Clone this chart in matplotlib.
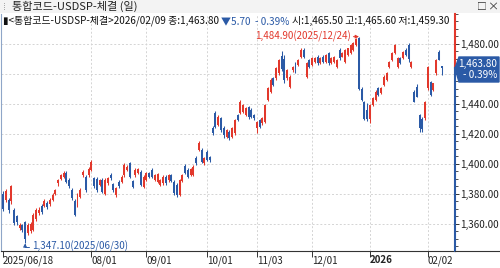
import matplotlib
matplotlib.use('Agg')
import matplotlib.pyplot as plt
from matplotlib.patches import Polygon, Rectangle
from matplotlib.lines import Line2D
from matplotlib.ticker import MultipleLocator
import numpy as np
import pandas as pd

plt.rcParams['font.family'] = ['Noto Sans CJK KR', 'DejaVu Sans']

# trading days (weekdays without Korean market holidays)
holidays = ['2025-08-15', '2025-10-03', '2025-10-06', '2025-10-07', '2025-10-08',
            '2025-10-09', '2025-12-25', '2025-12-31', '2026-01-01']
days = pd.bdate_range('2025-06-18', '2026-02-09')
days = days[~days.isin(pd.to_datetime(holidays))]

open_ = [1380.0, 1376.0, 1376.0, 1375.0, 1369.0, 1365.0, 1357.0, 1359.0, 1361.0, 1354.0,
         1355.0, 1356.0, 1363.0, 1367.0, 1372.0, 1372.0, 1374.0, 1373.0, 1376.0, 1380.0,
         1387.0, 1390.0, 1391.5, 1393.8, 1389.0, 1382.7, 1375.0, 1372.7, 1378.0, 1392.7,
         1391.5, 1392.7, 1396.0, 1390.4, 1390.0, 1386.0, 1389.0, 1380.0, 1387.0, 1392.7,
         1386.4, 1379.3, 1388.0, 1388.0, 1392.7, 1396.0, 1400.4, 1388.7, 1392.7, 1393.8,
         1394.9, 1384.9, 1389.3, 1393.8, 1396.0, 1389.3, 1388.2, 1386.0, 1387.0, 1391.6,
         1389.0, 1392.7, 1388.0, 1386.0, 1379.3, 1388.7, 1398.9, 1396.0, 1392.7, 1392.7,
         1403.8, 1409.3, 1409.3, 1400.4, 1408.0, 1404.9, 1423.8, 1433.8, 1426.0, 1430.4,
         1424.0, 1418.2, 1421.5, 1418.2, 1420.4, 1432.6, 1433.7, 1434.9, 1432.6, 1437.7,
         1436.0, 1432.6, 1424.0, 1429.3, 1427.0, 1428.2, 1442.6, 1448.2, 1457.0, 1457.0,
         1460.4, 1472.0, 1470.0, 1457.0, 1451.5, 1462.6, 1467.0, 1466.0, 1471.5, 1476.0,
         1458.2, 1469.3, 1466.0, 1468.2, 1471.5, 1467.5, 1471.5, 1468.2, 1473.7, 1467.1,
         1468.2, 1464.9, 1476.0, 1471.5, 1468.0, 1472.6, 1474.0, 1476.0, 1479.0, 1484.0,
         1450.0, 1441.5, 1436.0, 1430.0, 1439.3, 1442.6, 1450.4, 1447.0, 1452.6, 1456.0,
         1464.9, 1469.3, 1473.7, 1464.9, 1470.4, 1470.4, 1476.0, 1479.0, 1464.9, 1448.2,
         1451.5, 1432.6, 1430.0, 1430.4, 1450.4, 1454.9, 1449.3, 1460.4, 1474.9, 1465.5]
high = [1382.0, 1383.5, 1377.5, 1386.0, 1370.5, 1366.0, 1360.5, 1360.0, 1362.0, 1360.5,
        1361.5, 1367.0, 1370.5, 1371.0, 1373.5, 1376.5, 1375.5, 1377.0, 1380.5, 1383.5,
        1390.0, 1393.5, 1395.0, 1395.0, 1390.5, 1384.0, 1376.5, 1380.5, 1384.0, 1396.0,
        1392.5, 1398.0, 1402.5, 1391.5, 1391.0, 1390.0, 1390.5, 1390.5, 1391.5, 1394.0,
        1387.5, 1384.5, 1389.0, 1392.5, 1400.5, 1399.0, 1401.5, 1389.5, 1397.0, 1397.5,
        1396.0, 1392.5, 1394.5, 1394.5, 1397.0, 1393.5, 1394.0, 1390.0, 1392.5, 1392.5,
        1393.5, 1393.5, 1389.0, 1387.0, 1390.0, 1393.5, 1400.0, 1397.0, 1397.5, 1399.0,
        1405.0, 1415.0, 1410.5, 1404.5, 1409.0, 1405.5, 1425.0, 1435.0, 1432.5, 1431.5,
        1425.0, 1423.5, 1422.5, 1424.5, 1430.0, 1433.5, 1442.5, 1440.0, 1438.0, 1438.5,
        1437.0, 1433.5, 1428.5, 1430.0, 1431.0, 1440.0, 1451.0, 1457.0, 1458.0, 1464.5,
        1470.0, 1475.0, 1472.6, 1463.5, 1459.0, 1465.5, 1468.0, 1470.0, 1477.0, 1477.0,
        1468.0, 1470.0, 1471.0, 1471.5, 1472.5, 1471.0, 1472.5, 1473.5, 1474.5, 1471.0,
        1472.0, 1470.0, 1477.0, 1474.5, 1476.5, 1477.5, 1480.0, 1481.0, 1484.0, 1484.9,
        1451.0, 1442.0, 1440.4, 1440.0, 1444.5, 1449.0, 1451.0, 1451.0, 1459.0, 1461.0,
        1468.5, 1474.5, 1480.0, 1471.0, 1471.0, 1475.5, 1477.0, 1480.4, 1468.5, 1449.0,
        1453.0, 1433.5, 1431.0, 1442.0, 1465.5, 1455.5, 1454.0, 1469.8, 1476.0, 1465.6]
low = [1368.5, 1374.5, 1367.5, 1373.5, 1359.0, 1359.5, 1356.0, 1354.5, 1347.1, 1352.5,
       1354.0, 1355.0, 1362.0, 1366.0, 1366.5, 1371.0, 1370.0, 1372.0, 1375.0, 1379.0,
       1385.5, 1389.0, 1390.5, 1387.0, 1384.0, 1376.0, 1365.0, 1371.0, 1377.0, 1391.5,
       1381.5, 1391.0, 1395.0, 1384.0, 1381.5, 1385.0, 1380.5, 1379.0, 1386.0, 1389.5,
       1381.5, 1378.0, 1384.0, 1387.0, 1391.5, 1395.0, 1390.5, 1384.0, 1391.5, 1393.0,
       1385.0, 1384.0, 1388.5, 1390.5, 1390.5, 1388.5, 1387.5, 1385.0, 1386.0, 1386.0,
       1388.0, 1388.0, 1379.5, 1378.0, 1378.5, 1388.0, 1393.0, 1390.5, 1392.0, 1392.0,
       1399.5, 1408.5, 1400.5, 1399.5, 1402.0, 1401.5, 1419.5, 1424.0, 1425.0, 1421.5,
       1417.5, 1417.0, 1416.0, 1417.5, 1419.5, 1428.5, 1433.0, 1434.0, 1432.0, 1430.0,
       1430.5, 1429.5, 1420.4, 1424.0, 1426.0, 1427.5, 1442.0, 1447.5, 1452.0, 1456.0,
       1459.5, 1462.0, 1453.7, 1456.0, 1450.5, 1461.5, 1460.5, 1465.0, 1470.5, 1470.5,
       1457.5, 1464.0, 1465.0, 1467.5, 1466.0, 1466.5, 1467.5, 1467.5, 1466.0, 1466.5,
       1467.5, 1464.0, 1469.5, 1471.0, 1467.0, 1472.0, 1473.5, 1475.5, 1478.5, 1449.0,
       1442.0, 1429.0, 1428.5, 1427.0, 1438.5, 1442.0, 1445.5, 1446.5, 1452.0, 1455.5,
       1464.0, 1468.5, 1473.0, 1464.0, 1466.5, 1470.0, 1472.0, 1468.2, 1464.0, 1441.0,
       1444.5, 1421.5, 1421.5, 1429.5, 1449.5, 1445.5, 1448.5, 1459.5, 1469.0, 1459.3]
close = [1370.0, 1382.0, 1369.0, 1385.0, 1360.5, 1361.0, 1359.0, 1356.0, 1350.0, 1359.0,
         1360.0, 1366.0, 1369.0, 1369.5, 1368.0, 1375.0, 1371.0, 1376.0, 1379.0, 1382.5,
         1389.0, 1392.5, 1393.8, 1388.0, 1385.0, 1377.0, 1366.0, 1379.3, 1382.7, 1394.9,
         1382.7, 1396.9, 1401.5, 1385.0, 1382.7, 1389.0, 1381.5, 1389.0, 1390.4, 1390.4,
         1382.7, 1383.8, 1385.0, 1391.6, 1399.3, 1398.0, 1391.6, 1384.9, 1396.0, 1396.7,
         1386.0, 1391.6, 1393.8, 1391.6, 1391.6, 1392.7, 1393.0, 1389.3, 1391.6, 1387.0,
         1392.7, 1388.7, 1380.4, 1379.3, 1389.3, 1392.7, 1393.8, 1391.6, 1396.7, 1398.2,
         1400.4, 1413.8, 1401.6, 1403.8, 1402.7, 1402.7, 1420.4, 1424.9, 1431.6, 1422.7,
         1419.0, 1422.6, 1417.0, 1423.7, 1429.3, 1429.3, 1441.5, 1439.3, 1437.0, 1431.0,
         1431.5, 1430.4, 1428.0, 1424.9, 1430.4, 1439.3, 1450.4, 1456.0, 1452.6, 1463.7,
         1469.3, 1463.0, 1456.0, 1462.6, 1458.2, 1464.9, 1461.5, 1469.3, 1476.0, 1471.5,
         1467.0, 1464.9, 1470.4, 1470.4, 1467.0, 1470.4, 1468.2, 1472.6, 1467.0, 1470.4,
         1471.5, 1469.3, 1470.4, 1473.7, 1476.0, 1477.0, 1479.3, 1480.4, 1483.6, 1449.8,
         1442.6, 1430.0, 1430.0, 1439.3, 1443.7, 1448.2, 1446.0, 1450.4, 1458.2, 1460.4,
         1468.2, 1473.7, 1479.3, 1470.4, 1467.0, 1474.9, 1472.6, 1470.0, 1468.2, 1441.5,
         1444.9, 1424.0, 1423.0, 1441.5, 1464.9, 1446.0, 1453.7, 1469.3, 1469.5, 1463.8]

tick_dates = ['2025-06-18', '2025-08-01', '2025-09-01', '2025-10-01',
              '2025-11-03', '2025-12-01', '2026-01-02', '2026-02-02']
tick_labels = ['2025/06/18', '08/01', '09/01', '10/01', '11/03', '12/01', '2026', '02/02']
y_ticks = [1360, 1380, 1400, 1420, 1440, 1460, 1480]

title = '통합코드-USDSP-체결 (일)'
last = {'date': '2026/02/09', 'close': 1463.80, 'chg': -5.70, 'pct': -0.39,
        'open': 1465.50, 'high': 1465.60, 'low': 1459.30}
hi_note = ('2025/12/24', 1484.90)
lo_note = ('2025/06/30', 1347.10)

RED = '#e2382c'
BLUE = '#2b5aa6'
W, H = 500, 268


def fx(px):
    return px / W


def fy(py):
    return 1 - py / H


fig = plt.figure(figsize=(5, 2.68), dpi=100)
fig.patch.set_facecolor('white')

# plot area in pixels: x 1..455, y 14..251
ax = fig.add_axes([fx(1), fy(251), fx(454), (251 - 14) / H])
ax.set_facecolor('white')

x = np.arange(len(days))
o = np.array(open_)
c = np.array(close)
cols = np.where(c >= o, RED, BLUE)

ax.vlines(x, low, high, colors=cols, lw=0.75, zorder=3)
ax.bar(x, np.maximum(np.abs(c - o), 0.5), bottom=np.minimum(o, c), width=0.72,
       color=cols, linewidth=0, zorder=4)

ax.set_xlim(-0.72, 163.8)
ax.set_ylim(1342.0, 1500.0)

# grid
for yv in y_ticks:
    ax.axhline(yv, color='#d4d4d4', lw=0.7, ls=(0, (2, 2)), zorder=1)
pos = [days.get_loc(pd.Timestamp(d)) for d in tick_dates]
for p in pos[1:]:
    ax.axvline(p, color='#d4d4d4', lw=0.7, ls=(0, (2, 2)), zorder=1)

# x axis
ax.set_xticks(pos)
ax.set_xticklabels(tick_labels)
ax.tick_params(axis='x', direction='out', length=4, width=0.7, color='#333333',
               pad=-1, labelsize=7, labelcolor='#222222')
for lab in ax.get_xticklabels():
    lab.set_horizontalalignment('left')
    if lab.get_text() == '2026':
        lab.set_fontweight('bold')

# y axis on the right (1,460 sits under the last price box)
ax.yaxis.tick_right()
ax.set_yticks(y_ticks)
ax.set_yticklabels(['' if v == 1460 else '{:,.2f}'.format(v) for v in y_ticks])
ax.yaxis.set_minor_locator(MultipleLocator(5))
ax.tick_params(axis='y', which='major', direction='out', length=3, width=0.7,
               color='#333333', pad=1, labelsize=7.2, labelcolor='#222222')
ax.tick_params(axis='y', which='minor', direction='out', length=2, width=0.6, color='#333333')

for s in ['top', 'right']:
    ax.spines[s].set_visible(False)
ax.spines['left'].set_color('#8fa6c8')
ax.spines['left'].set_linewidth(0.8)
ax.spines['bottom'].set_color('#333333')
ax.spines['bottom'].set_linewidth(0.8)

# price axis line: red above last close, blue below
xr = 163.8
ax.plot([xr, xr], [last['close'], 1500.0], color=RED, lw=1.5, clip_on=False, zorder=6)
ax.plot([xr, xr], [1342.0, last['close']], color=BLUE, lw=1.5, clip_on=False, zorder=6)
fig.add_artist(Line2D([fx(455), fx(500)], [fy(251), fy(251)], color='#333333', lw=0.8))

# high / low notes
hi_i = days.get_loc(pd.Timestamp(hi_note[0].replace('/', '-')))
lo_i = days.get_loc(pd.Timestamp(lo_note[0].replace('/', '-')))
ax.annotate('{:,.2f}({})'.format(hi_note[1], hi_note[0]), xy=(hi_i, hi_note[1]),
            xytext=(-6, 0), textcoords='offset points', ha='right', va='center',
            fontsize=7, color=RED,
            arrowprops=dict(arrowstyle='-|>', color=RED, lw=0.7, mutation_scale=5,
                            shrinkA=0, shrinkB=0))
ax.annotate('{:,.2f}({})'.format(lo_note[1], lo_note[0]), xy=(lo_i, lo_note[1]),
            xytext=(5, -2.5), textcoords='offset points', ha='left', va='center',
            fontsize=7, color=BLUE,
            arrowprops=dict(arrowstyle='-|>', color=BLUE, lw=0.7, mutation_scale=5,
                            shrinkA=0, shrinkB=0,
                            connectionstyle='angle,angleA=0,angleB=90,rad=0'))

# last price box
yb = ax.transData.transform((0, last['close']))[1] / fig.dpi / 2.68
box = Polygon([[fx(455), yb], [fx(459), fy(57)], [fx(499), fy(57)],
               [fx(499), fy(82)], [fx(459), fy(82)]], closed=True,
              transform=fig.transFigure, facecolor=BLUE, edgecolor=BLUE, zorder=10)
fig.add_artist(box)
fig.text(fx(497), fy(64), '{:,.2f}'.format(last['close']), color='white', fontsize=7.2,
         ha='right', va='center', zorder=11)
fig.text(fx(497), fy(75), '- {:.2f}%'.format(abs(last['pct'])), color='white', fontsize=7.2,
         ha='right', va='center', zorder=11)

# title bar
fig.add_artist(Rectangle((0, fy(13)), 1, 13 / H, transform=fig.transFigure,
                         facecolor='#f3f3f3', edgecolor='none', zorder=0))
fig.text(fx(3), fy(6.5), '⁞', fontsize=7, color='#999999', va='center')
fig.text(fx(12), fy(6.5), title, fontsize=8, color='#222222', va='center')
fig.text(fx(482), fy(6.5), '□', fontsize=7, color='#333333', va='center', ha='center')
fig.text(fx(493), fy(6.5), '×', fontsize=8, color='#333333', va='center', ha='center')

# info line
parts = [('▮<통합코드-USDSP-체결>{} 종:{:,.2f} '.format(last['date'], last['close']), '#111111'),
         ('▼{:.2f}  - {:.2f}% '.format(abs(last['chg']), abs(last['pct'])), BLUE),
         ('시:{:,.2f} 고:{:,.2f} 저:{:,.2f}'.format(last['open'], last['high'], last['low']), '#111111')]
t = fig.text(fx(3), fy(21), parts[0][0], fontsize=7.2, color=parts[0][1], va='center')
fig.canvas.draw()
xx = t.get_window_extent().x1
for s, col in parts[1:]:
    t = fig.text(xx / W, fy(21), s, fontsize=7.2, color=col, va='center')
    fig.canvas.draw()
    xx = t.get_window_extent().x1

fig.savefig('out.png', dpi=100)
